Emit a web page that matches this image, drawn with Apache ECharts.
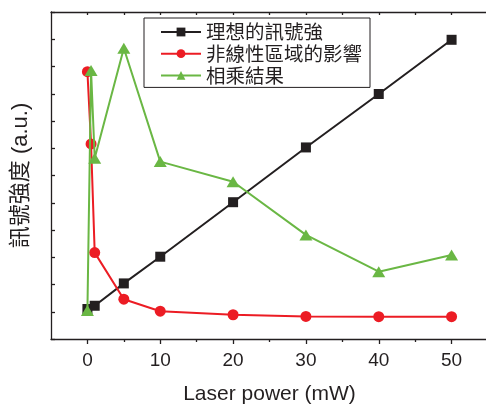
<!DOCTYPE html>
<html>
<head>
<meta charset="utf-8">
<script src="https://cdn.jsdelivr.net/npm/echarts@6/dist/echarts.min.js"></script>
<style>html,body{margin:0;padding:0;background:#fff}#c{width:486px;height:405px}</style>
</head>
<body>
<div id="c"></div>
<script>
var seriesNames = ['理想的訊號強', '非線性區域的影響', '相乘結果'];
var idealX = [0, 1, 5, 10, 20, 30, 40, 50];
var idealY = [1.1, 1.22, 2.04, 3.02, 5.02, 7.03, 8.99, 10.98];
var nonlinX = [0, 0.5, 1, 5, 10, 20, 30, 40, 50];
var nonlinY = [9.81, 7.16, 3.17, 1.46, 1.02, 0.89, 0.83, 0.82, 0.82];
var productX = [0, 0.5, 1, 5, 10, 20, 30, 40, 50];
var productY = [1.05, 9.85, 6.63, 10.67, 6.51, 5.77, 3.82, 2.47, 3.08];
var majorTicks = [0, 10, 20, 30, 40, 50];
var minorTicks = [5, 15, 25, 35, 45];
var topTicks = [0, 5, 10, 15, 20, 25, 30, 35, 40, 45, 50];
var xAxisName = 'Laser power (mW)';
var yAxisName = '訊號強度 (a.u.)';

function pairs(xs, ys) { return xs.map(function (x, i) { return [x, ys[i]]; }); }

var ink = '#231f20';
var font = '"Liberation Sans", "Noto Sans CJK TC", sans-serif';
var chart = echarts.init(document.getElementById('c'), null, {renderer: 'canvas'});
chart.setOption({
  animation: false,
  backgroundColor: '#fff',
  grid: {left: 51, top: 12, width: 437, height: 327, containLabel: false, outerBoundsMode: 'none'},
  legend: {
    orient: 'vertical', left: 144, top: 18,
    padding: [4, 8, 2, 16],
    itemGap: 1.7, itemWidth: 40, itemHeight: 11,
    borderColor: ink, borderWidth: 1, backgroundColor: '#fff',
    textStyle: {fontSize: 19.5, color: ink, fontFamily: '"Noto Sans CJK TC", sans-serif', lineHeight: 20},
    data: seriesNames
  },
  xAxis: [
    {
      type: 'value', position: 'bottom', min: -5, max: 55,
      axisLine: {show: true, onZero: false, lineStyle: {color: ink, width: 1.3}},
      axisTick: {show: true, inside: false, length: 5, customValues: majorTicks, lineStyle: {color: ink, width: 1.3}},
      axisLabel: {show: true, customValues: majorTicks, fontSize: 19, color: ink, fontFamily: font, margin: 12},
      splitLine: {show: false},
      name: xAxisName, nameLocation: 'middle', nameGap: 45,
      nameTextStyle: {fontSize: 21, color: ink, fontFamily: font}
    },
    {
      type: 'value', position: 'bottom', min: -5, max: 55,
      axisLine: {show: false, onZero: false},
      axisTick: {show: true, inside: false, length: 3, customValues: minorTicks, lineStyle: {color: ink, width: 1.3}},
      axisLabel: {show: false},
      splitLine: {show: false}
    },
    {
      type: 'value', position: 'top', min: -5, max: 55,
      axisLine: {show: true, onZero: false, lineStyle: {color: ink, width: 1.3}},
      axisTick: {show: true, inside: true, length: 3, customValues: topTicks, lineStyle: {color: ink, width: 1.3}},
      axisLabel: {show: false},
      splitLine: {show: false}
    }
  ],
  yAxis: [
    {
      type: 'value', min: 0, max: 12, interval: 1,
      axisLine: {show: true, onZero: false, lineStyle: {color: ink, width: 1.3}},
      axisTick: {show: true, inside: true, length: 4, lineStyle: {color: ink, width: 1.3}},
      axisLabel: {show: false},
      splitLine: {show: false},
      name: yAxisName, nameLocation: 'middle', nameGap: 19,
      nameTextStyle: {fontSize: 22, color: ink, fontFamily: font}
    }
  ],
  series: [
    {
      name: seriesNames[0], type: 'line', xAxisIndex: 0, yAxisIndex: 0,
      data: pairs(idealX, idealY), symbol: 'rect', symbolSize: 10, showSymbol: true,
      lineStyle: {color: ink, width: 2}, itemStyle: {color: ink}, z: 2
    },
    {
      name: seriesNames[1], type: 'line', xAxisIndex: 0, yAxisIndex: 0,
      data: pairs(nonlinX, nonlinY), symbol: 'circle', symbolSize: 11, showSymbol: true,
      lineStyle: {color: '#ec1c24', width: 2}, itemStyle: {color: '#ec1c24'}, z: 3
    },
    {
      name: seriesNames[2], type: 'line', xAxisIndex: 0, yAxisIndex: 0,
      data: pairs(productX, productY), symbol: 'triangle', symbolSize: [13, 11], showSymbol: true,
      lineStyle: {color: '#6ab744', width: 2}, itemStyle: {color: '#6ab744'}, z: 4
    }
  ]
});
</script>
</body>
</html>
